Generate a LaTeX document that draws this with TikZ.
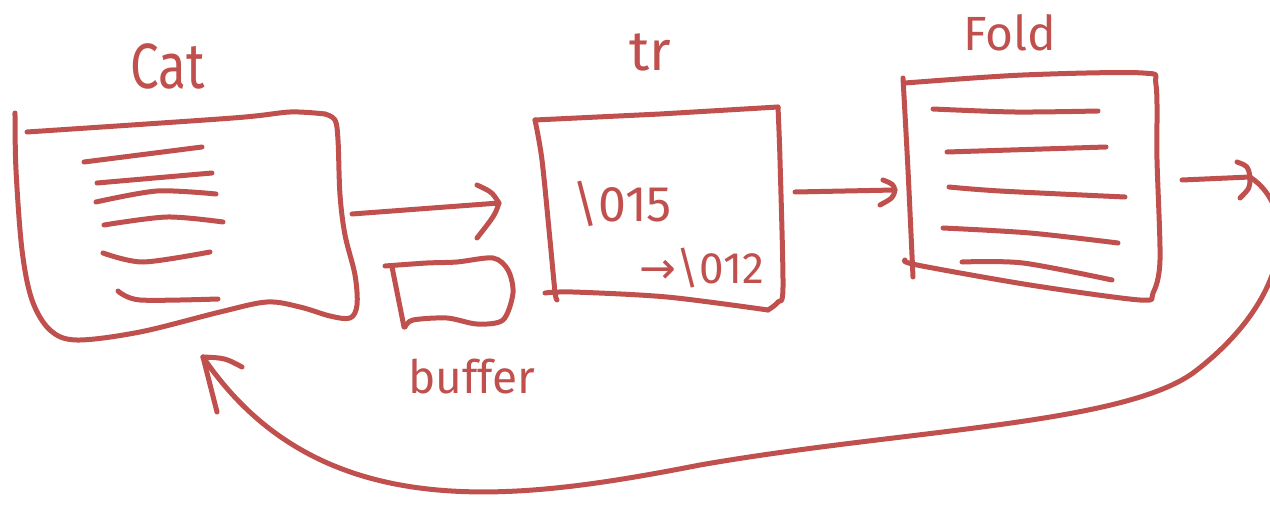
\documentclass[tikz,border=0pt]{standalone}
\usepackage{fontspec}
\setmainfont{Fira Sans}
\newfontfamily\symfont{DejaVu Sans}
\definecolor{ink}{RGB}{192,80,77}
\begin{document}
\begin{tikzpicture}[x=1pt,y=-1pt,
  pen/.style={draw=ink, line width=5pt, line cap=round, line join=round},
  lbl/.style={text=ink, inner sep=0pt, font=\fontsize{52}{56}\selectfont}]
\useasboundingbox (0,0) rectangle (1270,506);

% ---- Cat stage: sheet of lines ----
\draw[pen] plot[smooth, tension=0.55] coordinates {(15,113) (16,170) (22,250) (32,300) (50,330) (77,340) (140,332) (220,312) (267,302) (300,307) (330,316) (350,318) (357,305) (355,275) (345,235) (340,195) (338,140) (335,120) (325,114)};
\draw[pen] plot[smooth] coordinates {(325,114) (290,112) (233,118) (27,132)};
\draw[pen] (84,162) -- (202,147);
\draw[pen] (97,183) -- (212,173);
\draw[pen] plot[smooth] coordinates {(96,202) (157,191) (216,194)};
\draw[pen] plot[smooth] coordinates {(104,225) (167,217) (223,222)};
\draw[pen] plot[smooth] coordinates {(103,253) (143,262) (210,252)};
\draw[pen] plot[smooth] coordinates {(118,291) (140,300) (218,299)};
\node[lbl, xscale=0.8, font=\fontsize{64}{68}\selectfont] (cat) at (168,66) {Cat};

% ---- buffer ----
\draw[pen] plot[smooth, tension=0.5] coordinates {(405,327) (413,320) (447,318) (477,324) (503,320) (513,293) (508,270) (493,258) (457,262) (427,263) (385,266)};
\draw[pen] (392,267) -- (404,327);
\node[lbl, font=\fontsize{46}{50}\selectfont] (buf) at (472,377) {buffer};

% ---- tr stage ----
\draw[pen] (535,120) -- (660,114) -- (778,107);
\draw[pen] plot[smooth] coordinates {(778,107) (780,160) (783,287) (778,302) (768,310)};
\draw[pen] plot[smooth] coordinates {(768,310) (667,297) (573,292) (545,293)};
\draw[pen] plot[smooth] coordinates {(535,120) (542,160) (550,240) (555,292) (557,300)};
\node[lbl, font=\fontsize{56}{60}\selectfont] (tr) at (650,52) {tr};
\node[lbl, font=\fontsize{50}{54}\selectfont] (cr) at (622,204) {\textbackslash 015};
\node[lbl, font=\fontsize{44}{48}\selectfont] (lf) at (702,268) {{\symfont →}\textbackslash 012};

% ---- Fold stage ----
\draw[pen] plot[smooth, tension=0.5] coordinates {(905,83) (1023,75) (1143,73) (1156,85) (1157,160) (1160,260) (1153,293) (1140,300) (1030,285) (917,265) (905,260)};
\draw[pen] plot[smooth] coordinates {(903,78) (908,170) (913,277)};
\draw[pen] plot[smooth] coordinates {(933,109) (1015,112) (1098,111)};
\draw[pen] (947,152) -- (1106,147);
\draw[pen] plot[smooth] coordinates {(949,187) (1000,191) (1125,197)};
\draw[pen] plot[smooth] coordinates {(943,228) (1030,233) (1118,243)};
\draw[pen] plot[smooth] coordinates {(962,262) (1023,263) (1112,280)};
\node[lbl, font=\fontsize{48}{52}\selectfont] (fold) at (1010,33) {Fold};

% ---- connectors ----
\coordinate (a1s) at (352,214);
\coordinate (a1e) at (499,203);
\draw[pen] (a1s) -- (a1e);
\draw[pen] (477,185) .. controls (492,192) .. (a1e) .. controls (495,215) .. (477,238);

\coordinate (a2s) at (795,192);
\coordinate (a2e) at (895,190);
\draw[pen] (a2s) -- (a2e);
\draw[pen] (883,180) .. controls (893,184) .. (a2e) .. controls (893,198) .. (880,205);

\coordinate (a3s) at (1182,180);
\coordinate (a3e) at (1250,177);
\draw[pen] (a3s) -- (a3e);
\draw[pen] (1237,162) .. controls (1248,166) .. (a3e) .. controls (1250,188) .. (1240,198);

% feedback loop back to Cat (runs past the right edge)
\coordinate (back) at (203,357);
\draw[pen] (a3e) .. controls (1300,210) and (1290,300) .. (1193,373)
  .. controls (1120,425) and (900,430) .. (700,465)
  .. controls (520,500) and (320,530) .. (back);
\draw[pen] (back) -- (217,412);
\draw[pen] (back) .. controls (225,358) .. (242,367);
\end{tikzpicture}
\end{document}
